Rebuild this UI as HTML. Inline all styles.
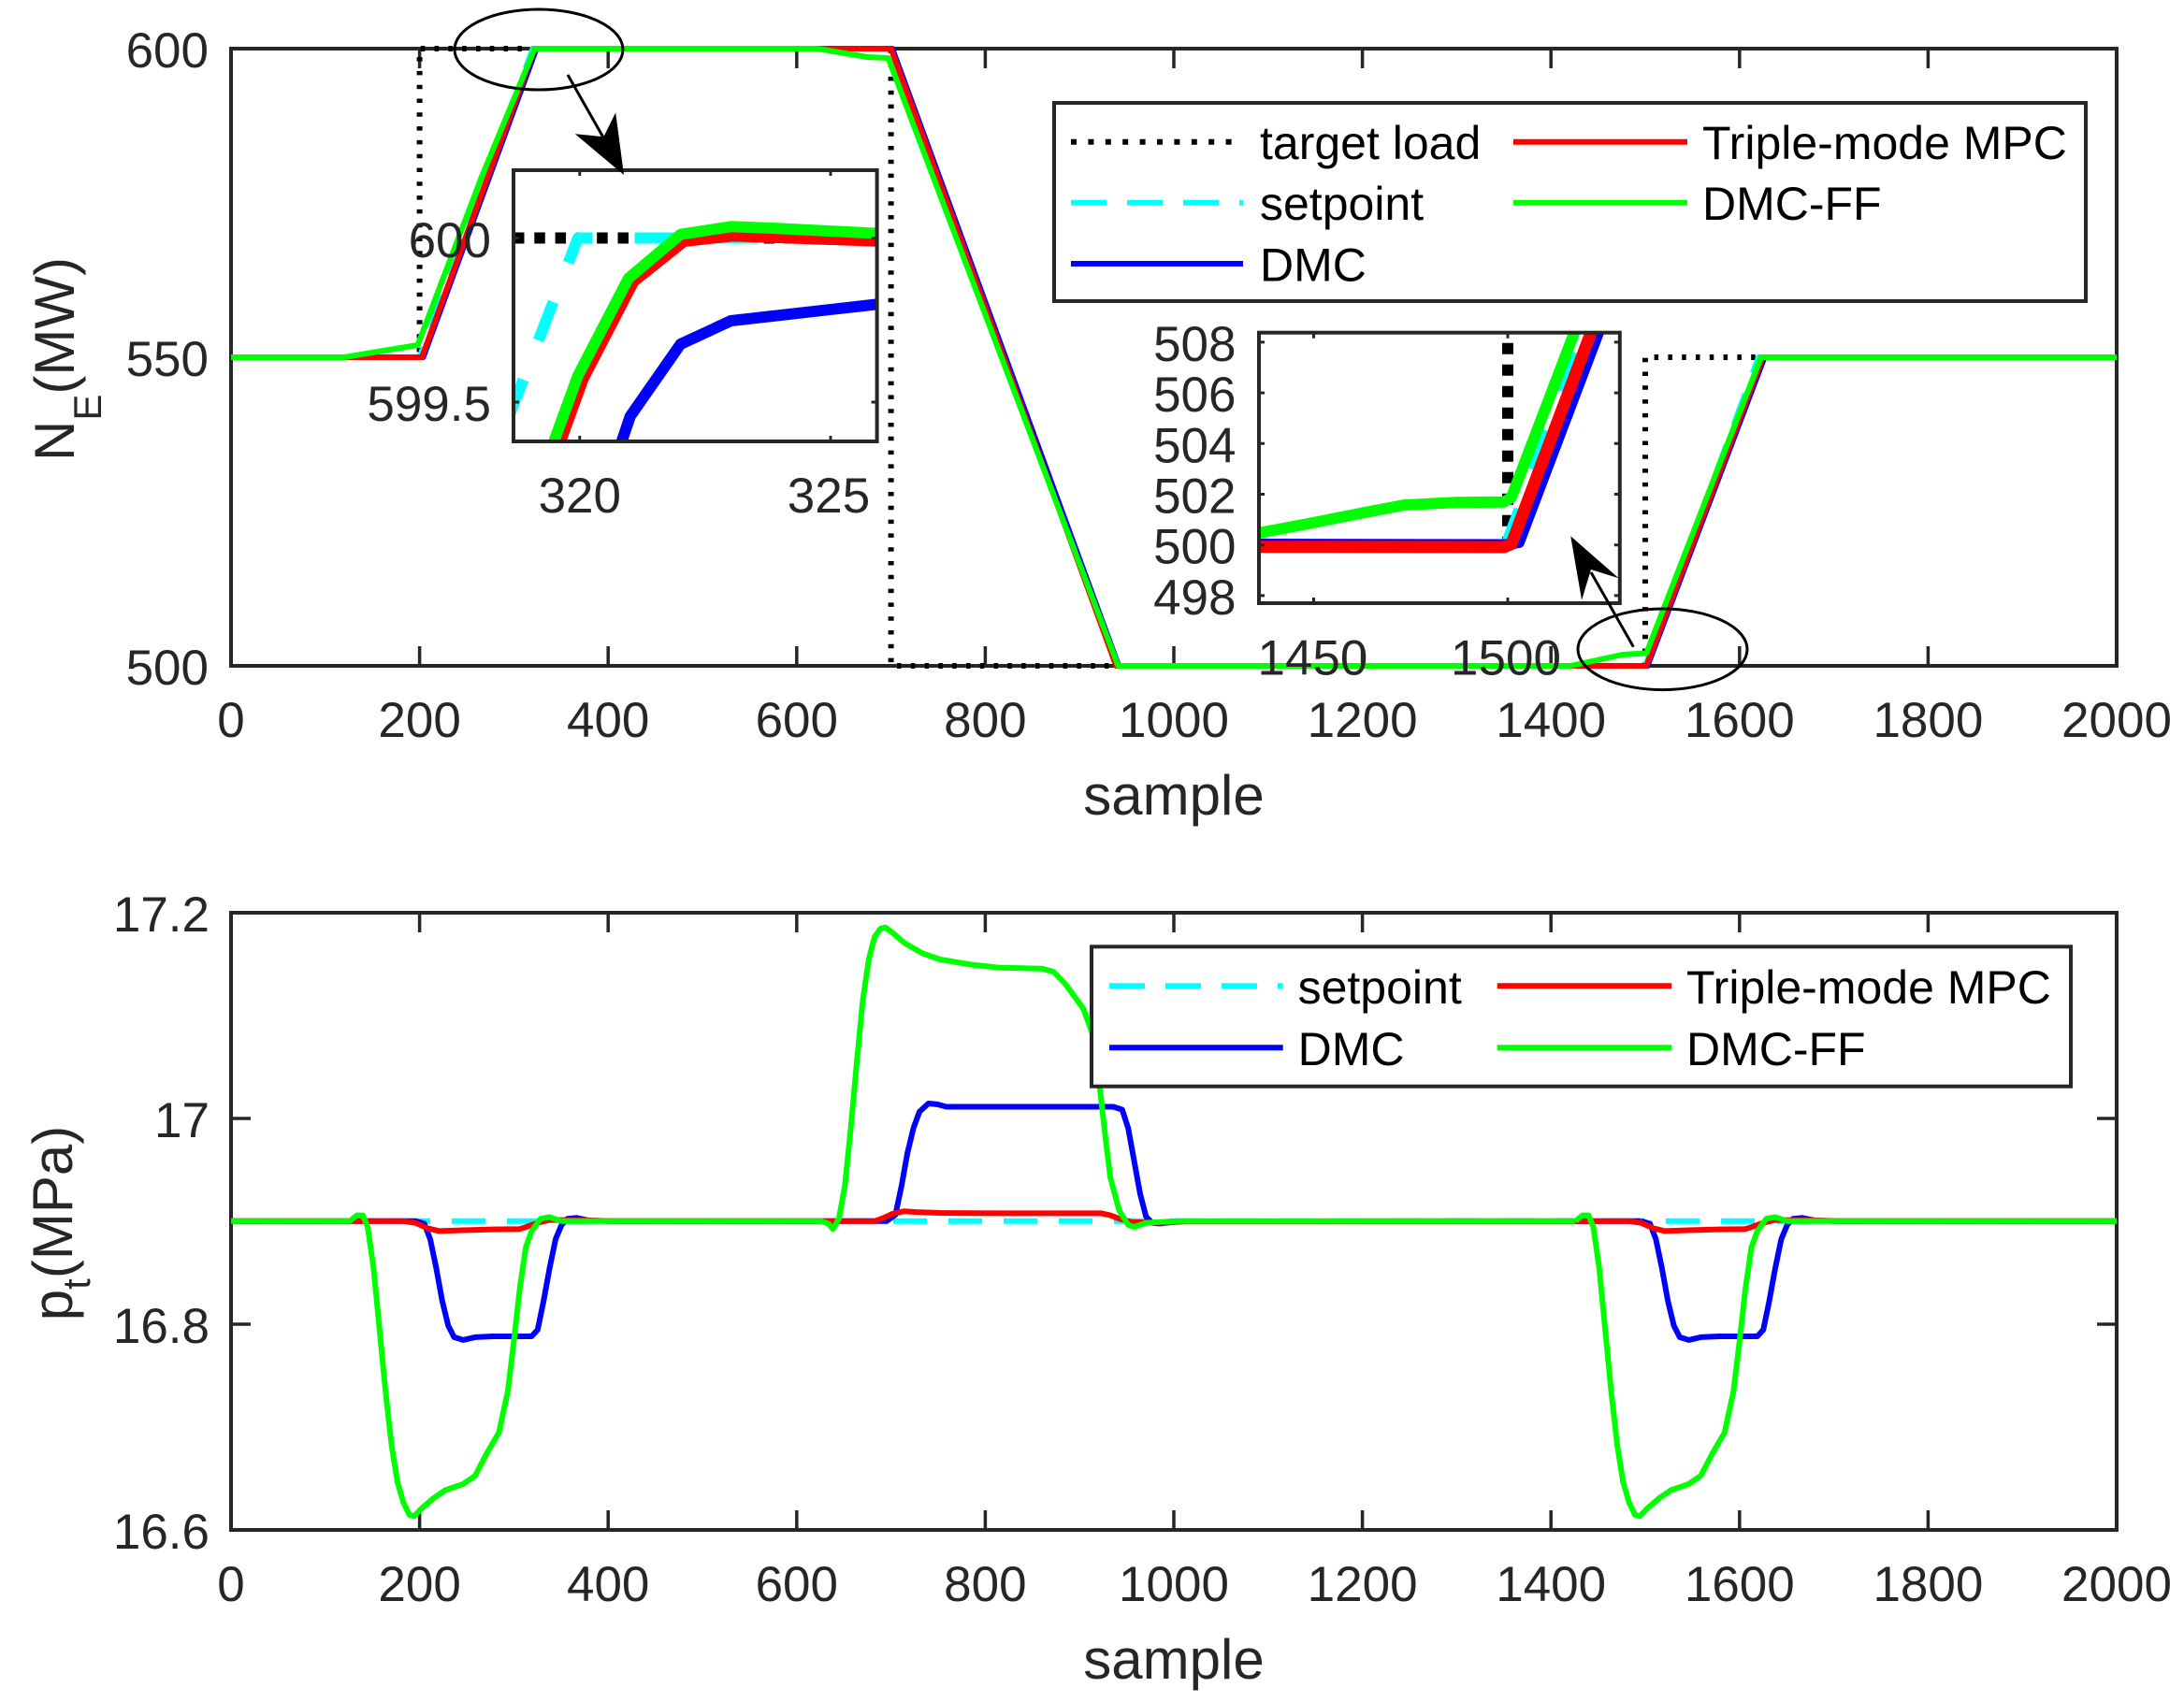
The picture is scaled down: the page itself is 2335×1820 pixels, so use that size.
<!DOCTYPE html>
<html>
<head>
<meta charset="utf-8">
<style>
html,body{margin:0;padding:0;background:#fff;}
svg{display:block;}
text{font-family:"Liberation Sans",Arial,sans-serif;}
</style>
</head>
<body>
<svg width="2335" height="1820" viewBox="0 0 2335 1820" xmlns="http://www.w3.org/2000/svg">
<rect x="0" y="0" width="2335" height="1820" fill="#fff"/>
<defs>
  <clipPath id="c1"><rect x="549" y="182" width="388.6" height="290"/></clipPath>
  <clipPath id="c2"><rect x="1346" y="355.7" width="385.8" height="289.3"/></clipPath>
</defs>

<!-- ================= TOP AXES ================= -->
<rect x="247" y="52" width="2016" height="660" fill="none" stroke="#262626" stroke-width="4"/>
<g stroke="#262626" stroke-width="3.5">
  <path d="M448.6,712V691M650.2,712V691M851.8,712V691M1053.4,712V691M1255,712V691M1456.6,712V691M1658.2,712V691M1859.8,712V691M2061.4,712V691"/>
  <path d="M448.6,52V73M650.2,52V73M851.8,52V73M1053.4,52V73M1255,52V73M1456.6,52V73M1658.2,52V73M1859.8,52V73M2061.4,52V73"/>
  <path d="M247,382H268M2263,382H2242"/>
</g>
<g font-size="53" fill="#262626" text-anchor="end">
  <text x="223" y="72">600</text>
  <text x="223" y="402">550</text>
  <text x="223" y="732">500</text>
</g>
<g font-size="53" fill="#262626" text-anchor="middle">
  <text x="247" y="788">0</text>
  <text x="448.6" y="788">200</text>
  <text x="650.2" y="788">400</text>
  <text x="851.8" y="788">600</text>
  <text x="1053.4" y="788">800</text>
  <text x="1255" y="788">1000</text>
  <text x="1456.6" y="788">1200</text>
  <text x="1658.2" y="788">1400</text>
  <text x="1859.8" y="788">1600</text>
  <text x="2061.4" y="788">1800</text>
  <text x="2263" y="788">2000</text>
</g>
<text x="1255" y="871" font-size="60" fill="#262626" text-anchor="middle">sample</text>
<text transform="translate(79,384) rotate(-90)" font-size="60" fill="#262626" text-anchor="middle">N<tspan font-size="42" dy="29">E</tspan><tspan dy="-29">(MW)</tspan></text>

<!-- top data -->
<g fill="none" stroke-linejoin="round">
  <path d="M247,382 L448.6,382 L448.6,52 L952.6,52 L952.6,712 L1759,712 L1759,382 L2263,382" stroke="#000" stroke-width="6" stroke-dasharray="4.5 10.3"/>
  <path d="M247,382 L448.6,382 L569.6,52 L952.6,52 L1194.5,712 L1759,712 L1880,382 L2263,382" stroke="#00ffff" stroke-width="6" stroke-dasharray="36 23"/>
  <path d="M247,382 L452.5,382 L573.5,52 L954,52 L1196,712 L1761.5,712 L1886.5,382 L2263,382" stroke="#0000ff" stroke-width="6"/>
  <path d="M247,382 L451,382 L571.6,52 L952.6,52 L1193.3,712 L1760.2,712 L1884.7,382 L2263,382" stroke="#ff0000" stroke-width="6"/>
  <path d="M247,382 L368,382 L446.6,369 L515,189 L571.6,52 L874,52 L927.4,61 L949.6,62 L1195.5,712 L1679.2,712 L1734.8,700 L1760.2,698.5 L1882.8,382 L2263,382" stroke="#00ff00" stroke-width="6"/>
</g>

<!-- ========== INSET 1 ========== -->
<rect x="549" y="182" width="388.6" height="290" fill="#fff"/>
<g clip-path="url(#c1)" fill="none" stroke-linejoin="round">
  <path d="M549,254.5 L940,254.5" stroke="#000" stroke-width="12" stroke-dasharray="11.5 10.8"/>
  <path d="M543.6,447 L617.9,254.5 L945,254.5" stroke="#00ffff" stroke-width="12" stroke-dasharray="44 45"/>
  <path d="M658,492 L673.7,445.3 L727.6,368 L781.5,343 L826,338 L945,324.5" stroke="#0000ff" stroke-width="12"/>
  <path d="M592,492 L623.5,405 L677.4,301 L731.3,258 L783.3,252.3 L945,258" stroke="#ff0000" stroke-width="12"/>
  <path d="M585,492 L617.9,401.7 L671.8,297.7 L727.6,250.7 L781.5,242.3 L826,244 L945,250" stroke="#00ff00" stroke-width="12"/>
</g>
<rect x="549" y="182" width="388.6" height="290" fill="none" stroke="#262626" stroke-width="4"/>
<g stroke="#262626" stroke-width="3">
  <path d="M619.8,472V466M888,472V466M619.8,182V188M888,182V188M549,254.5H555M549,430H555M937.6,254.5H931.6M937.6,430H931.6"/>
</g>
<g font-size="53" fill="#262626">
  <text x="525" y="275" text-anchor="end">600</text>
  <text x="525" y="450" text-anchor="end">599.5</text>
  <text x="619.8" y="548" text-anchor="middle">320</text>
  <text x="886" y="548" text-anchor="middle">325</text>
</g>

<!-- ========== INSET 2 ========== -->
<rect x="1346" y="355.7" width="385.8" height="289.3" fill="#fff"/>
<g clip-path="url(#c2)" fill="none" stroke-linejoin="round">
  <path d="M1340,582.7 L1612,582.7" stroke="#000" stroke-width="12" stroke-dasharray="12 11"/>
  <path d="M1612,355 L1612,583" stroke="#000" stroke-width="12" stroke-dasharray="12 11" stroke-dashoffset="11.3"/>
  <path d="M1340,583 L1610,583 L1695,355.7 L1700,340" stroke="#00ffff" stroke-width="12" stroke-dasharray="44 45"/>
  <path d="M1340,582 L1610,582.5 L1624,580 L1708.9,355.7 L1714,342" stroke="#0000ff" stroke-width="12"/>
  <path d="M1340,584.7 L1608,585 L1616,581.7 L1701,355.7 L1706,342" stroke="#ff0000" stroke-width="13"/>
  <path d="M1340,571 L1398.6,560 L1457.9,548.3 L1501.3,540 L1556.7,537.3 L1608,536.7 L1616,531.7 L1683.2,355.7 L1690,337" stroke="#00ff00" stroke-width="12"/>
</g>
<rect x="1346" y="355.7" width="385.8" height="289.3" fill="none" stroke="#262626" stroke-width="4"/>
<g stroke="#262626" stroke-width="3">
  <path d="M1404.5,645V639M1612,645V639M1404.5,355.7V361.7M1612,355.7V361.7"/>
  <path d="M1346,365.9H1352M1346,420.1H1352M1346,474.3H1352M1346,528.5H1352M1346,582.7H1352M1346,636.9H1352"/>
  <path d="M1731.8,365.9H1725.8M1731.8,420.1H1725.8M1731.8,474.3H1725.8M1731.8,528.5H1725.8M1731.8,582.7H1725.8M1731.8,636.9H1725.8"/>
</g>
<g font-size="53" fill="#262626" text-anchor="end">
  <text x="1321.5" y="385.9">508</text>
  <text x="1321.5" y="440.1">506</text>
  <text x="1321.5" y="494.3">504</text>
  <text x="1321.5" y="548.5">502</text>
  <text x="1321.5" y="602.7">500</text>
  <text x="1321.5" y="656.9">498</text>
</g>
<g font-size="53" fill="#262626" text-anchor="middle">
  <text x="1403.4" y="721.7">1450</text>
  <text x="1610" y="721.7">1500</text>
</g>

<!-- annotation 1 -->
<ellipse cx="576" cy="53" rx="90" ry="43" fill="none" stroke="#000" stroke-width="3"/>
<line x1="607" y1="80" x2="645" y2="147" stroke="#000" stroke-width="3"/>
<polygon points="667,187 658.2,120.4 645.4,146.2 614.8,143.3" fill="#000"/>

<!-- annotation 2 -->
<ellipse cx="1777.5" cy="694.3" rx="90.5" ry="43.3" fill="none" stroke="#000" stroke-width="3"/>
<line x1="1746.4" y1="691.7" x2="1701" y2="612" stroke="#000" stroke-width="3"/>
<polygon points="1679.2,573.3 1730.6,618.3 1701,609 1691.1,641.7" fill="#000"/>

<!-- top legend -->
<rect x="1127" y="110" width="1103" height="212" fill="#fff" stroke="#262626" stroke-width="4"/>
<g fill="none" stroke-width="6">
  <path d="M1145,151.7H1329" stroke="#000" stroke-dasharray="6 12.4"/>
  <path d="M1145,216.7H1329" stroke="#00ffff" stroke-dasharray="38 22"/>
  <path d="M1145,282H1329" stroke="#0000ff"/>
  <path d="M1618,151.7H1804" stroke="#ff0000"/>
  <path d="M1618,216.7H1804" stroke="#00ff00"/>
</g>
<g font-size="50" fill="#000">
  <text x="1347" y="170">target load</text>
  <text x="1347" y="235">setpoint</text>
  <text x="1347" y="300.5">DMC</text>
  <text x="1820" y="170">Triple-mode MPC</text>
  <text x="1820" y="235">DMC-FF</text>
</g>

<!-- ================= BOTTOM AXES ================= -->
<rect x="247" y="976" width="2016" height="660" fill="none" stroke="#262626" stroke-width="4"/>
<g stroke="#262626" stroke-width="3.5">
  <path d="M448.6,1636V1615M650.2,1636V1615M851.8,1636V1615M1053.4,1636V1615M1255,1636V1615M1456.6,1636V1615M1658.2,1636V1615M1859.8,1636V1615M2061.4,1636V1615"/>
  <path d="M448.6,976V997M650.2,976V997M851.8,976V997M1053.4,976V997M1255,976V997M1456.6,976V997M1658.2,976V997M1859.8,976V997M2061.4,976V997"/>
  <path d="M247,1196H268M247,1416H268M2263,1196H2242M2263,1416H2242"/>
</g>
<g font-size="53" fill="#262626" text-anchor="end">
  <text x="224" y="996">17.2</text>
  <text x="224" y="1216">17</text>
  <text x="224" y="1436">16.8</text>
  <text x="224" y="1656">16.6</text>
</g>
<g font-size="53" fill="#262626" text-anchor="middle">
  <text x="247" y="1712">0</text>
  <text x="448.6" y="1712">200</text>
  <text x="650.2" y="1712">400</text>
  <text x="851.8" y="1712">600</text>
  <text x="1053.4" y="1712">800</text>
  <text x="1255" y="1712">1000</text>
  <text x="1456.6" y="1712">1200</text>
  <text x="1658.2" y="1712">1400</text>
  <text x="1859.8" y="1712">1600</text>
  <text x="2061.4" y="1712">1800</text>
  <text x="2263" y="1712">2000</text>
</g>
<text x="1255" y="1795" font-size="60" fill="#262626" text-anchor="middle">sample</text>
<text transform="translate(77,1308) rotate(-90)" font-size="60" fill="#262626" text-anchor="middle">p<tspan font-size="42" dy="19">t</tspan><tspan dy="-19">(MPa)</tspan></text>

<!-- bottom data -->
<g fill="none" stroke-linejoin="round" stroke-width="6">
  <path d="M247,1305.8 L2263,1305.8" stroke="#00ffff" stroke-dasharray="36 23"/>

  <!-- DMC -->
  <path d="M247,1305.8 L444.1,1305.8 L453.6,1308.4 L460,1325.2 L466.4,1356 L472.8,1391.1 L479.2,1417.5 L485.5,1429.9 L495.1,1432.9 L507.9,1429.9 L527,1429 L568.4,1429 L574.8,1422 L581.2,1391.1 L587.6,1356 L594,1325.2 L600.3,1310 L606.7,1303.2 L616.3,1302.3 L629,1304.9 L648.2,1305.8 L947.9,1305.8 L957.4,1298.8 L963.9,1268 L970.2,1232.8 L976.6,1206.4 L983,1188.8 L992.6,1180 L1002.1,1180.9 L1011.7,1183.5 L1190.3,1183.5 L1199.8,1186.6 L1206.2,1206.4 L1212.6,1241.6 L1219,1276.8 L1225.3,1301 L1231.7,1307.6 L1240,1308.4 L1260,1306 L1754.5,1305.8" stroke="#0000ff"/>
  <path transform="translate(1310.4,0)" d="M444.1,1305.8 L453.6,1308.4 L460,1325.2 L466.4,1356 L472.8,1391.1 L479.2,1417.5 L485.5,1429.9 L495.1,1432.9 L507.9,1429.9 L527,1429 L568.4,1429 L574.8,1422 L581.2,1391.1 L587.6,1356 L594,1325.2 L600.3,1310 L606.7,1303.2 L616.3,1302.3 L629,1304.9 L648.2,1305.8 L952.6,1305.8" stroke="#0000ff"/>

  <!-- Triple-mode MPC -->
  <path d="M247,1305.8 L431.3,1305.8 L444.1,1307.6 L456.8,1313.3 L469.6,1316.4 L495.1,1315.5 L527,1314.6 L555.7,1314.2 L565.3,1311.1 L574.8,1307.6 L587.6,1304.5 L622.7,1304.9 L660.9,1305.8 L935.2,1305.8 L944.7,1302.3 L954.3,1297.9 L967,1295.2 L979.8,1296.1 L1005.3,1297 L1069.1,1297.4 L1177.5,1297.4 L1187.1,1299.6 L1196.6,1303.2 L1209.4,1306.7 L1240,1307.6 L1270,1306 L1741.7,1305.8" stroke="#ff0000"/>
  <path transform="translate(1310.4,0)" d="M431.3,1305.8 L444.1,1307.6 L456.8,1313.3 L469.6,1316.4 L495.1,1315.5 L527,1314.6 L555.7,1314.2 L565.3,1311.1 L574.8,1307.6 L587.6,1304.5 L622.7,1304.9 L660.9,1305.8 L952.6,1305.8" stroke="#ff0000"/>

  <!-- DMC-FF -->
  <path d="M247,1305.8 L373.9,1305.8 L381.6,1299.6 L388,1299.6 L393.1,1312 L399.4,1356 L405.8,1422 L412.2,1487.9 L418.6,1545.1 L424.9,1584.7 L431.3,1606.7 L437.7,1619.9 L442.8,1621.2 L450.5,1613.3 L463.2,1602.3 L476,1593.5 L495.1,1586.9 L507.9,1578.1 L520.6,1553.9 L533.4,1531.9 L542.9,1487.9 L549.3,1435.1 L555.7,1378 L562.1,1334 L568.4,1316.4 L578,1303.2 L587.6,1301.4 L600.3,1305.8 L877.8,1305.8 L885.4,1308.4 L890.5,1314.2 L896.9,1303.2 L903.3,1268 L909.6,1206.4 L916,1136 L922.4,1070 L928.8,1026 L935.1,1001.8 L941.5,993 L946.6,991.7 L954.3,997.4 L967,1008.4 L986.2,1019.4 L1005.3,1026 L1037.2,1031.3 L1069.1,1034.8 L1113.7,1035.7 L1126.5,1039.2 L1139.2,1052.4 L1158.4,1078.8 L1167.9,1105.2 L1174.3,1149.2 L1180.7,1206.4 L1187.1,1259.2 L1196.6,1294.4 L1206.2,1309.8 L1212.6,1312 L1225.3,1307.6 L1240,1306.7 L1260,1305.8 L1684.3,1305.8" stroke="#00ff00"/>
  <path transform="translate(1310.4,0)" d="M373.9,1305.8 L381.6,1299.6 L388,1299.6 L393.1,1312 L399.4,1356 L405.8,1422 L412.2,1487.9 L418.6,1545.1 L424.9,1584.7 L431.3,1606.7 L437.7,1619.9 L442.8,1621.2 L450.5,1613.3 L463.2,1602.3 L476,1593.5 L495.1,1586.9 L507.9,1578.1 L520.6,1553.9 L533.4,1531.9 L542.9,1487.9 L549.3,1435.1 L555.7,1378 L562.1,1334 L568.4,1316.4 L578,1303.2 L587.6,1301.4 L600.3,1305.8 L952.6,1305.8" stroke="#00ff00"/>
</g>

<!-- bottom legend -->
<rect x="1167" y="1012.3" width="1047" height="149.4" fill="#fff" stroke="#262626" stroke-width="4"/>
<g fill="none" stroke-width="6">
  <path d="M1186,1054.3H1371.7" stroke="#00ffff" stroke-dasharray="38 22"/>
  <path d="M1186,1120.3H1371.7" stroke="#0000ff"/>
  <path d="M1600.7,1054.3H1787.2" stroke="#ff0000"/>
  <path d="M1600.7,1120.3H1787.2" stroke="#00ff00"/>
</g>
<g font-size="50" fill="#000">
  <text x="1387.6" y="1073">setpoint</text>
  <text x="1387.6" y="1139">DMC</text>
  <text x="1803" y="1073">Triple-mode MPC</text>
  <text x="1803" y="1139">DMC-FF</text>
</g>
</svg>
</body>
</html>
